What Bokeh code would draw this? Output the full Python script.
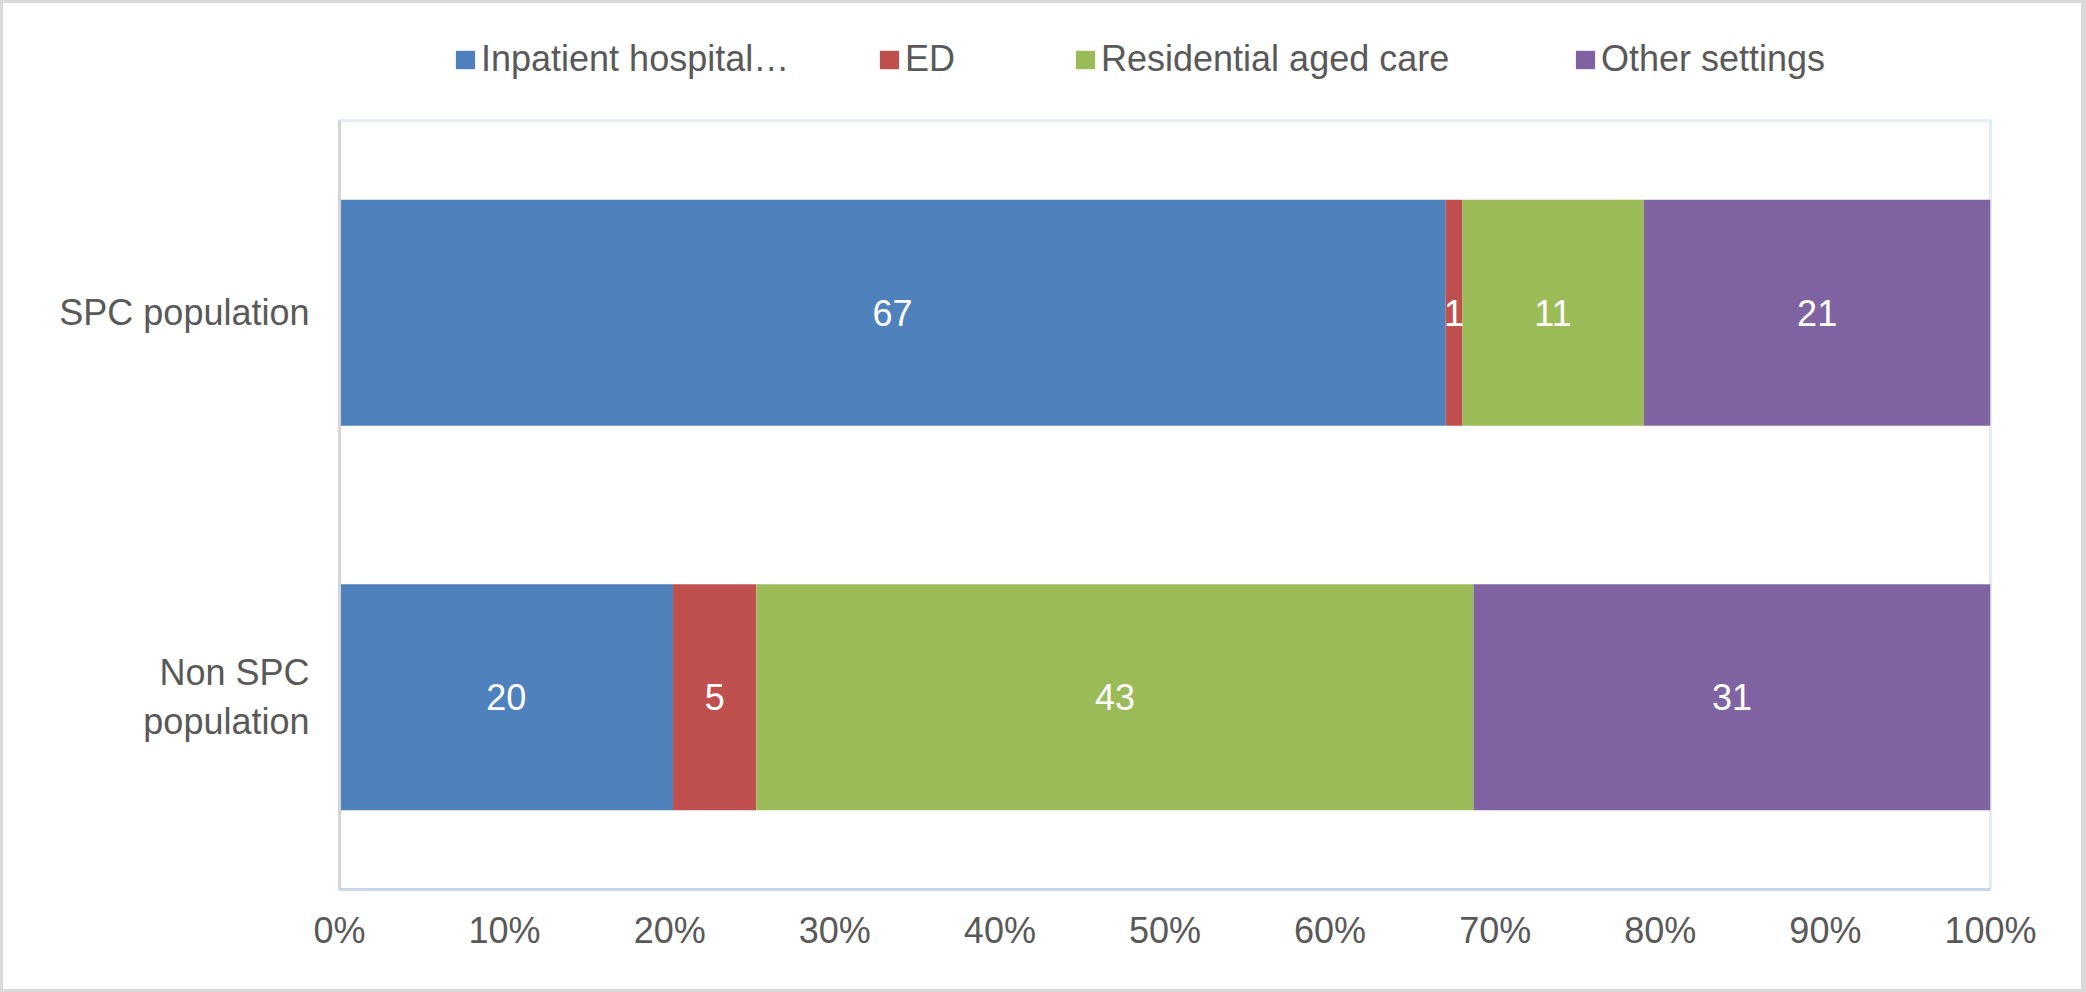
from bokeh.plotting import figure
from bokeh.models import (ColumnDataSource, FactorRange, Range1d, FixedTicker,
                          Legend, LegendItem)
from bokeh.layouts import column
from bokeh.core.properties import value
from bokeh.embed import file_html
from bokeh.resources import INLINE

# Place of death by population group (percent of deaths)
groups = ["Non SPC\npopulation", "SPC population"]
settings = ["Inpatient hospital\u2026", "ED", "Residential aged care", "Other settings"]
inpatient = [20, 67]
ed = [5, 1]
residential = [43, 11]
other = [31, 21]
series = [inpatient, ed, residential, other]
colors = ["#4F81BD", "#C0504D", "#9BBB59", "#8064A2"]

tick_values = [0, 10, 20, 30, 40, 50, 60, 70, 80, 90, 100]
tick_labels = ["0%", "10%", "20%", "30%", "40%", "50%", "60%", "70%", "80%", "90%", "100%"]

FONT = "Liberation Sans"
TEXT_GREY = "#595959"
WIDTH = 2078
LEGEND_H = 115

# ---- main chart -----------------------------------------------------------
p = figure(width=WIDTH, height=986 - LEGEND_H,
           y_range=FactorRange(*groups, range_padding=0),
           x_range=Range1d(0, 100), output_backend="svg", toolbar_location=None,
           min_border_left=336, min_border_right=91, min_border_top=2,
           min_border_bottom=100)
p.y_range.factor_padding = 0

# 100% stacked bars: each group's values are scaled to its own total
totals = [sum(s[i] for s in series) for i in range(len(groups))]
running = [0.0] * len(groups)
sources = []
label_x, label_y, label_t = [], [], []
for vals, col in zip(series, colors):
    left = list(running)
    right = [running[i] + vals[i] * 100.0 / totals[i] for i in range(len(groups))]
    src = ColumnDataSource(dict(y=groups, left=left, right=right))
    sources.append(src)
    p.hbar(y="y", left="left", right="right", height=0.588, source=src,
           fill_color=col, line_color=None)
    for i in range(len(groups)):
        label_x.append((left[i] + right[i]) / 2)
        label_y.append(groups[i])
        label_t.append(str(vals[i]))
    running = right

p.text(x=label_x, y=label_y, text=label_t, text_align="center",
       text_baseline="middle", text_color="white",
       text_font=value(FONT), text_font_size="36px")

p.xaxis.ticker = FixedTicker(ticks=tick_values)
p.xaxis.major_label_overrides = dict(zip(tick_values, tick_labels))
for ax in (p.xaxis, p.yaxis):
    ax.major_tick_line_color = None
    ax.minor_tick_line_color = None
    ax.major_label_text_font = FONT
    ax.major_label_text_font_size = "36px"
    ax.major_label_text_color = TEXT_GREY
    ax.axis_line_width = 3
p.xaxis.axis_line_color = "#C7D7ED"
p.yaxis.axis_line_color = "#D4D4D4"
p.xaxis.major_label_standoff = 14
p.yaxis.major_label_standoff = 24
p.xgrid.grid_line_color = None
p.ygrid.grid_line_color = None
p.outline_line_color = "#E4ECF6"
p.outline_line_width = 3
p.border_fill_color = "white"

# ---- legend strip above the chart ------------------------------------------
# The key renderers reuse the bar sources with zero bar height, so only their
# legend swatches show up in this strip.
lg_fig = figure(width=WIDTH, height=LEGEND_H, x_range=Range1d(200, 300),
                y_range=FactorRange(*groups), x_axis_type=None, y_axis_type=None,
                output_backend="svg", toolbar_location=None, min_border=0,
                outline_line_color=None, background_fill_color="white",
                border_fill_color="white")
lg_fig.xgrid.grid_line_color = None
lg_fig.ygrid.grid_line_color = None

legend_x = [114, 538, 734, 1234]
for name, col, src, lx in zip(settings, colors, sources, legend_x):
    key = lg_fig.hbar(y="y", left="left", right="right", height=0, source=src,
                      fill_color=col, line_color=None)
    lg = Legend(items=[LegendItem(label=name, renderers=[key])],
                location=(lx, 38), orientation="horizontal",
                glyph_width=24, glyph_height=23, label_standoff=4,
                label_text_font=FONT, label_text_font_size="36px",
                label_text_color=TEXT_GREY, border_line_color=None,
                background_fill_alpha=0, padding=0, margin=0, spacing=0)
    lg_fig.add_layout(lg, "center")

chart = column(lg_fig, p, spacing=0, styles={"background-color": "white"})
page = column(chart, styles={"background-color": "#D9D9D9", "padding": "3px 5px 3px 3px"})
open("out.html", "w").write(file_html(page, INLINE))
